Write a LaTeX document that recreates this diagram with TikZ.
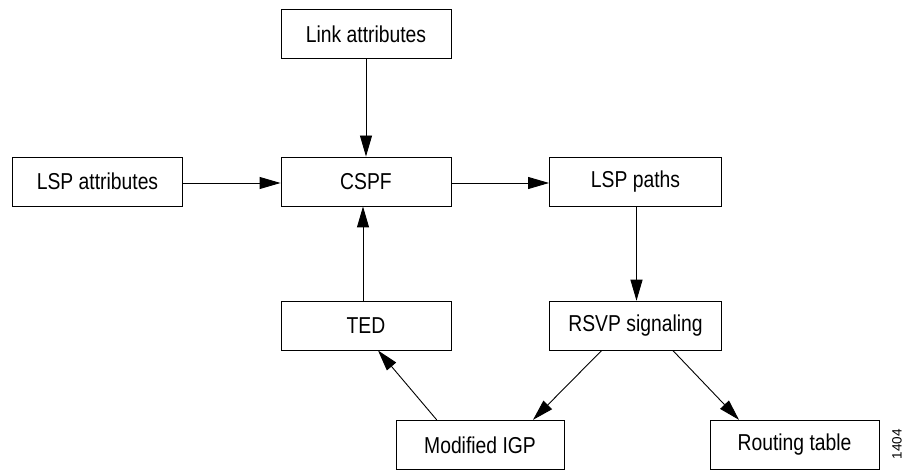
\documentclass[tikz,border=0pt]{standalone}
\usepackage{fontspec}
\setmainfont{Liberation Sans}[FakeStretch=0.84]
\newfontfamily\plainsans{Liberation Sans}
\usetikzlibrary{arrows.meta}
\begin{document}
\begin{tikzpicture}[x=1pt,y=-1pt,
  box/.style={draw=black, line width=0.9pt, minimum width=170pt, minimum height=49pt, inner sep=0pt, font=\fontsize{23}{26}\selectfont},
  conn/.style={draw=black, line width=0.9pt, -{Triangle[length=21pt,width=12pt]}}]
\useasboundingbox (0,0) rectangle (906,470);
\node[box] (link) at (366,34) {Link attributes};
\node[box] (lspattr) at (97.5,181.5) {LSP attributes};
\node[box] (cspf) at (366,181.5) {CSPF};
\node[box, minimum width=172pt] (lsppaths) at (635.5,181.5) {LSP paths};
\node[box] (ted) at (366,325.5) {TED};
\node[box, minimum width=172pt] (rsvp) at (635.5,325.7) {RSVP signaling};
\node[box, minimum width=168pt] (migp) at (480,444.8) {Modified IGP};
\node[box, minimum width=169pt] (rt) at (794.5,444.8) {Routing table};
\node[rotate=90, inner sep=0pt, font=\plainsans\fontsize{13.5}{15}\selectfont] (num) at (897,444) {1404};
\draw[conn] (link) -- (cspf);
\draw[conn] ([yshift=-1.5pt]lspattr.east) -- ([yshift=-1.5pt]cspf.west);
\draw[conn] ([yshift=-1.5pt]cspf.east) -- ([yshift=-1.5pt]lsppaths.west);
\draw[conn] ([xshift=-3pt]ted.north) -- ([xshift=-3pt]cspf.south);
\draw[conn] ([xshift=1pt]lsppaths.south) -- ([xshift=1pt]rsvp.north);
\draw[conn] ([xshift=-34pt]rsvp.south) -- ([xshift=53pt]migp.north);
\draw[conn] ([xshift=37.5pt]rsvp.south) -- ([xshift=-55.5pt]rt.north);
\draw[conn] ([xshift=-43.3pt]migp.north) -- ([xshift=12pt]ted.south);
\end{tikzpicture}
\end{document}
